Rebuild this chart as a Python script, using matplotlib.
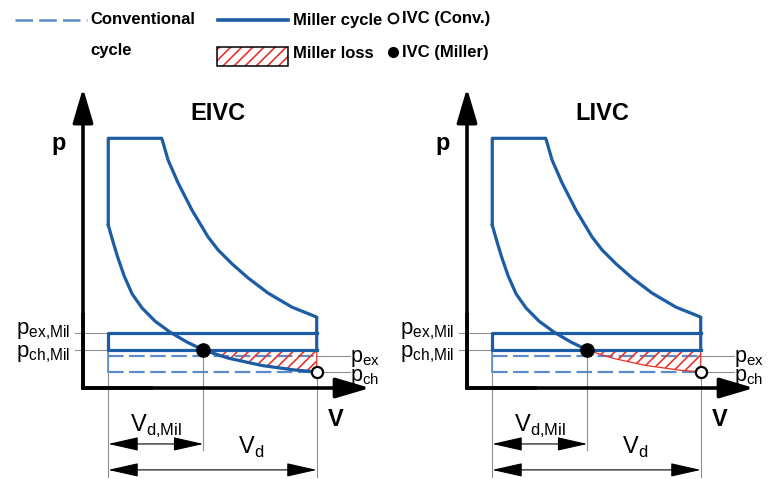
import matplotlib
matplotlib.use("Agg")
import matplotlib.pyplot as plt
from matplotlib.patches import Rectangle, ArrowStyle

# p-V diagram values (V relative to displacement end, p relative to peak)
V_c = 0.108          # clearance volume
V_mil = 0.515        # IVC Miller
V_bdc = 1.0          # IVC conventional / BDC
V_top = 0.337        # end of constant-pressure top line
p_max = 1.0
p_ex_mil = 0.22
p_ch_mil = 0.152
p_ex = 0.128
p_ch = 0.064

comp_V = [0.108, 0.126, 0.148, 0.176, 0.210, 0.253, 0.308, 0.372, 0.445,
          0.515, 0.620, 0.766, 0.907, 1.0]
comp_p = [0.653, 0.593, 0.525, 0.449, 0.377, 0.320, 0.268, 0.224, 0.184,
          0.152, 0.120, 0.090, 0.072, 0.064]
exp_V = [0.337, 0.364, 0.407, 0.466, 0.535, 0.578, 0.638, 0.706, 0.792, 0.894, 1.0]
exp_p = [1.0, 0.913, 0.821, 0.713, 0.605, 0.553, 0.497, 0.441, 0.380, 0.324, 0.284]

panels = ["EIVC", "LIVC"]

blue = "#1b5ca4"
light = "#5b8cc8"
red = "#e8342c"
grey = "#8f8f8f"
reg = ["Liberation Sans", "DejaVu Sans"]

plt.rcParams["mathtext.fontset"] = "custom"
plt.rcParams["mathtext.rm"] = "Liberation Sans"
plt.rcParams["hatch.linewidth"] = 1.2

fig = plt.figure(figsize=(7.68, 4.79), dpi=100)

i_mil = comp_V.index(V_mil)

for k, name in enumerate(panels):
    ax = fig.add_axes([0.5 * k, 0, 0.5, 1])
    ax.set_xlim(-0.3552, 1.2879)
    ax.set_ylim(-0.3644, 1.5539)
    ax.axis("off")

    # axes with arrows
    ax.plot([0, 0, 0.3], [0.3, 0, 0], color="black", lw=2.6,
            solid_joinstyle="miter", solid_capstyle="butt")
    for tip in [(0, 1.201), (1.228, 0)]:
        ax.annotate("", xy=tip, xytext=(0, 0),
                    arrowprops=dict(arrowstyle=ArrowStyle("-|>", head_length=21, head_width=6.2),
                                    mutation_scale=1, lw=2.6, color="black",
                                    shrinkA=0, shrinkB=0))

    # grey helper lines
    ax.plot([-0.034, V_c], [p_ex_mil, p_ex_mil], color=grey, lw=0.8)
    ax.plot([-0.034, V_c], [p_ch_mil, p_ch_mil], color=grey, lw=0.8)
    ax.plot([V_bdc, 1.142], [p_ex, p_ex], color=grey, lw=0.8)
    ax.plot([V_bdc, 1.142], [p_ch, p_ch], color=grey, lw=0.8)
    ax.plot([V_c, V_c], [p_ch_mil, -0.356], color=grey, lw=0.8)
    ax.plot([V_mil, V_mil], [p_ch_mil, -0.248], color=grey, lw=0.8)
    ax.plot([V_bdc, V_bdc], [p_ch, -0.356], color=grey, lw=0.8)

    # conventional cycle
    ax.plot([V_c, V_bdc], [p_ex, p_ex], color=light, lw=1.6, dashes=(7, 2.5))
    ax.plot([V_c, V_bdc], [p_ch, p_ch], color=light, lw=1.6, dashes=(7, 2.5))
    ax.plot([V_c, V_c], [p_ch_mil, p_ch], color=light, lw=1.2)

    # Miller loss
    ax.fill_between(comp_V[i_mil:], comp_p[i_mil:], p_ch_mil, facecolor="none",
                    edgecolor=red, hatch="///", linewidth=0.9, zorder=2)

    # Miller cycle
    ax.plot([V_c, V_c, V_top] + exp_V[1:] + [V_bdc, V_bdc],
            [comp_p[0], p_max, p_max] + exp_p[1:] + [p_ex_mil, p_ch_mil],
            color=blue, lw=2.3, zorder=3, solid_joinstyle="round")
    ax.plot([V_bdc, V_c, V_c, V_bdc], [p_ex_mil, p_ex_mil, p_ch_mil, p_ch_mil],
            color=blue, lw=2.3, zorder=3)
    n = len(comp_V) if name == "EIVC" else i_mil + 1
    ax.plot(comp_V[:n], comp_p[:n], color=blue, lw=2.3, zorder=3,
            solid_joinstyle="round")

    ax.plot(V_mil, p_ch_mil, "o", ms=9.5, color="black", zorder=5)
    ax.plot(V_bdc, p_ch, "o", ms=8, mfc="white", mec="black", mew=1.6, zorder=5)

    # dimension arrows
    for x1, y in [(V_mil, -0.224), (V_bdc, -0.328)]:
        ax.annotate("", xy=(x1, y), xytext=(V_c, y),
                    arrowprops=dict(arrowstyle=ArrowStyle("<|-|>", head_length=19, head_width=4.3),
                                    mutation_scale=1, lw=0.8, color="black",
                                    shrinkA=0, shrinkB=0))

    # labels
    ax.text(0.578, 1.101, name, ha="center", va="center", fontsize=17,
            fontweight="bold", family=reg)
    ax.text(-0.103, 0.979, "p", ha="center", va="center", fontsize=17,
            fontweight="bold", family=reg)
    ax.text(1.083, -0.128, "V", ha="center", va="center", fontsize=17,
            fontweight="bold", family=reg)
    ax.text(-0.056, 0.214, r"p$_{\mathrm{ex{,}Mil}}$", ha="right", va="baseline",
            fontsize=16, family=reg)
    ax.text(-0.056, 0.124, r"p$_{\mathrm{ch{,}Mil}}$", ha="right", va="baseline",
            fontsize=16, family=reg)
    ax.text(1.143, 0.106, r"p$_{\mathrm{ex}}$", ha="left", va="baseline",
            fontsize=15.5, family=reg)
    ax.text(1.143, 0.030, r"p$_{\mathrm{ch}}$", ha="left", va="baseline",
            fontsize=15.5, family=reg)
    ax.text(0.201, -0.176, r"V$_{\mathrm{d{,}Mil}}$", ha="left", va="baseline",
            fontsize=17, family=reg)
    ax.text(0.663, -0.264, r"V$_{\mathrm{d}}$", ha="left", va="baseline",
            fontsize=17, family=reg)

# legend strip
lax = fig.add_axes([0, 1 - 70 / 479, 1, 70 / 479])
lax.set_xlim(0, 768)
lax.set_ylim(70, 0)
lax.axis("off")
lax.plot([15, 87], [20, 20], color=light, lw=1.8, dashes=(7, 2.5))
lax.plot([218, 288], [20, 20], color=blue, lw=2.6)
lax.add_patch(Rectangle((217, 47), 71, 19, facecolor="none", edgecolor=red,
                        hatch="///", lw=0))
lax.add_patch(Rectangle((217, 47), 71, 19, facecolor="none", edgecolor="black", lw=1.1))
lax.plot(393, 18, "o", ms=7, mfc="white", mec="black", mew=1.4)
lax.plot(393, 52, "o", ms=7, color="black")
leg_kw = dict(fontsize=12, fontweight="bold", family=reg, va="center", ha="left")
lax.text(90, 20, "Conventional", **leg_kw)
lax.text(90, 51, "cycle", **leg_kw)
lax.text(293, 20, "Miller cycle", **leg_kw)
lax.text(293, 53, "Miller loss", **leg_kw)
lax.text(402, 19, "IVC (Conv.)", **leg_kw)
lax.text(402, 53, "IVC (Miller)", **leg_kw)

fig.savefig("out.png", dpi=100)
